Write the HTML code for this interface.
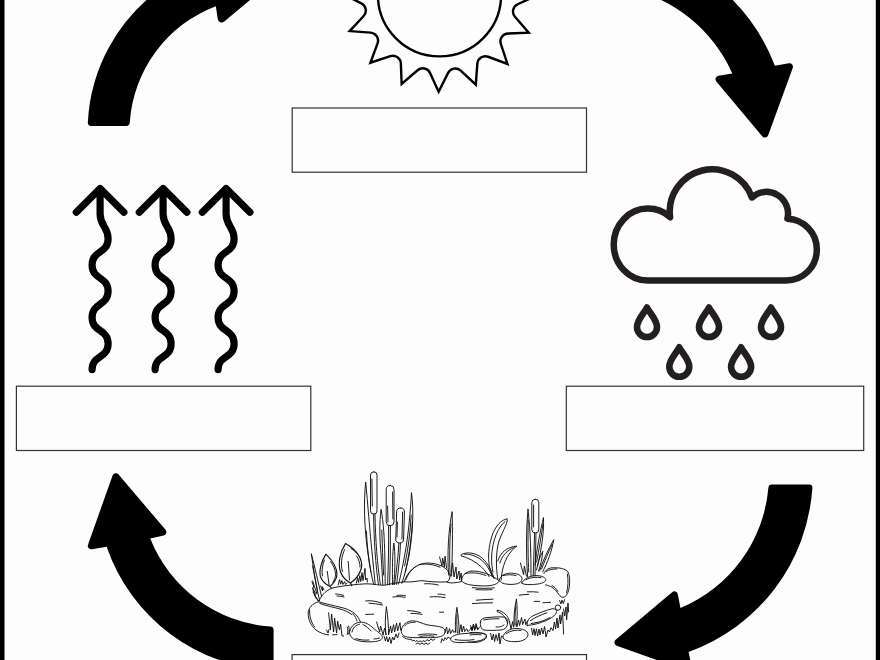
<!DOCTYPE html>
<html><head><meta charset="utf-8"><title>Water cycle</title>
<style>
html,body{margin:0;padding:0;background:#fdfdfd;font-family:"Liberation Sans",sans-serif;overflow:hidden}
svg{display:block}
</style></head>
<body>
<svg width="880" height="660" viewBox="0 0 880 660">
<rect x="0" y="0" width="880" height="660" fill="#fdfdfd"/>
<rect x="0" y="0" width="4.5" height="660" fill="#000"/>
<rect x="875.8" y="0" width="4.2" height="660" fill="#000"/>
<g fill="#000">
<path d="M 273.6,670.38 L 273.6,630.04 Q 273.6,626.64 270.2,626.54 A 139.8 139.8 0 0 1 150.26,538.58 L 150.26,538.58 L 163.69,535.49 A 3.5 3.5 0 0 0 165.57,529.81 L 118.53,474.43 A 3.5 3.5 0 0 0 112.57,475.52 L 88.01,544.63 A 3.5 3.5 0 0 0 91.92,549.25 L 106.66,546.64 A 183.5 183.5 0 0 0 273.6,670.38 Z"/>
<path d="M 719.76,-12 L 625.54,-12 A 148.9 148.9 0 0 1 732.3,73.38 L 732.3,73.38 L 718.43,75.69 A 3.5 3.5 0 0 0 716.32,81.39 L 762.2,136.34 A 3.5 3.5 0 0 0 768.18,135.29 L 792.73,67.88 A 3.5 3.5 0 0 0 788.84,63.24 L 774.87,65.67 A 191.2 191.2 0 0 0 719.76,-12 Z"/>
<path d="M 87.82,122.51 A 175.8 175.8 0 0 1 161.56,-12 L 256,-5 L 256,-5 L 224.27,21.53 A 4 4 0 0 1 217.75,19.05 L 215.83,6.14 A 133.9 133.9 0 0 0 129.79,122.51 Q 129.61,125.9 126.21,125.9 L 91.08,125.9 Q 87.68,125.9 87.82,122.51 Z"/>
<path d="M 809.18,484.5 L 772.01,484.5 Q 768.61,484.5 768.36,487.88 A 143.7 143.7 0 0 1 680.44,608.06 L 680.44,608.06 L 677.81,594.19 A 3.5 3.5 0 0 0 672.12,592.16 L 615.66,639.77 A 3.5 3.5 0 0 0 616.74,645.74 L 687.11,670.8 A 3.5 3.5 0 0 0 691.7,666.78 L 688.57,651.97 A 187.6 187.6 0 0 0 812.38,487.89 Q 812.58,484.5 809.18,484.5 Z"/>
</g>
<g fill="none" stroke="#000" stroke-width="2.4" stroke-linejoin="miter" stroke-miterlimit="10"><circle cx="439.5" cy="-5.2" r="61.6"/><path d="M 438.65,91.7 L 430.06,72.98 A 8 8 0 0 0 417.57,70.26 L 401.64,84 L 400.86,63.42 A 8 8 0 0 0 390.36,56.12 L 370.39,62.72 L 377.55,43.41 A 8 8 0 0 0 370.63,32.65 L 349.66,31.1 L 363.66,16 A 8 8 0 0 0 361.39,3.41 L 342.6,-6.05 L 361.32,-14.64 A 8 8 0 0 0 364.04,-27.13 L 350.3,-43.06 L 370.88,-43.84 A 8 8 0 0 0 378.18,-54.34 L 371.58,-74.31 L 390.89,-67.15 A 8 8 0 0 0 401.65,-74.07 L 403.2,-95.04 L 418.3,-81.04 A 8 8 0 0 0 430.89,-83.31 L 440.35,-102.1 L 448.94,-83.38 A 8 8 0 0 0 461.43,-80.66 L 477.36,-94.4 L 478.14,-73.82 A 8 8 0 0 0 488.64,-66.52 L 508.61,-73.12 L 501.45,-53.81 A 8 8 0 0 0 508.37,-43.05 L 529.34,-41.5 L 515.34,-26.4 A 8 8 0 0 0 517.61,-13.81 L 536.4,-4.35 L 517.68,4.24 A 8 8 0 0 0 514.96,16.73 L 528.7,32.66 L 508.12,33.44 A 8 8 0 0 0 500.82,43.94 L 507.42,63.91 L 488.11,56.75 A 8 8 0 0 0 477.35,63.67 L 475.8,84.64 L 460.7,70.64 A 8 8 0 0 0 448.11,72.91 L 438.65,91.7 Z"/></g>
<g fill="none" stroke="#333" stroke-width="1.2"><rect x="292.2" y="108" width="294.3" height="64.2"/><rect x="16.4" y="386.2" width="294.4" height="64.3"/><rect x="566.3" y="386.2" width="297.4" height="64.3"/><rect x="292.1" y="654.6" width="294.4" height="45.4"/></g>
<g fill="none" stroke="#000" stroke-width="7.2" stroke-linecap="round" stroke-linejoin="round"><path d="M 76.3,212.3 L 100.1,188.5 L 123.9,212.3 M 100.1,188.5 L 100.1,214 C 100.1,226 108.1,226.7 108.1,238.7 C 108.1,253.7 92.1,250.1 92.1,265.1 C 92.1,280.1 108.1,276.1 108.1,291.1 C 108.1,306.1 92.1,302.4 92.1,317.4 C 92.1,332.4 108.1,328.7 108.1,343.7 C 108.1,358.7 92.1,354.6 92.1,369.6 "/><path d="M 139.3,212.3 L 163.1,188.5 L 186.9,212.3 M 163.1,188.5 L 163.1,214 C 163.1,226 171.1,226.7 171.1,238.7 C 171.1,253.7 155.1,250.1 155.1,265.1 C 155.1,280.1 171.1,276.1 171.1,291.1 C 171.1,306.1 155.1,302.4 155.1,317.4 C 155.1,332.4 171.1,328.7 171.1,343.7 C 171.1,358.7 155.1,354.6 155.1,369.6 "/><path d="M 202.3,212.3 L 226.1,188.5 L 249.9,212.3 M 226.1,188.5 L 226.1,214 C 226.1,226 234.1,226.7 234.1,238.7 C 234.1,253.7 218.1,250.1 218.1,265.1 C 218.1,280.1 234.1,276.1 234.1,291.1 C 234.1,306.1 218.1,302.4 218.1,317.4 C 218.1,332.4 234.1,328.7 234.1,343.7 C 234.1,358.7 218.1,354.6 218.1,369.6 "/></g>
<path d="M 647.7,280.5 A 34 36 0 0 1 613.7,244.6 A 34 36 0 0 1 647.7,208.6 A 34 36 0 0 1 670.1,217.2 A 42.3 42.3 0 0 1 751.9,197.5 A 21.6 21.6 0 0 1 787.4,218.7 A 30.6 30.6 0 0 1 816.8,249.8 A 30.6 30.6 0 0 1 786.2,280.5 Z" fill="none" stroke="#231f20" stroke-width="6.5" stroke-linejoin="round"/>
<g fill="none" stroke="#231f20" stroke-width="6.6" stroke-linejoin="round"><path d="M 647,307.5 C 649.5,312.96 657,319.59 657,327 A 10 10 0 1 1 637,327 C 637,319.59 644.5,312.96 647,307.5 Z"/><path d="M 709,307.5 C 711.5,312.96 719,319.59 719,327 A 10 10 0 1 1 699,327 C 699,319.59 706.5,312.96 709,307.5 Z"/><path d="M 771,307.5 C 773.5,312.96 781,319.59 781,327 A 10 10 0 1 1 761,327 C 761,319.59 768.5,312.96 771,307.5 Z"/><path d="M 679.3,347.3 C 681.8,352.76 689.3,359.39 689.3,366.8 A 10 10 0 1 1 669.3,366.8 C 669.3,359.39 676.8,352.76 679.3,347.3 Z"/><path d="M 741.1,347.3 C 743.6,352.76 751.1,359.39 751.1,366.8 A 10 10 0 1 1 731.1,366.8 C 731.1,359.39 738.6,352.76 741.1,347.3 Z"/></g>
<g fill="none" stroke="#111" stroke-width="0.95" stroke-linecap="round" stroke-linejoin="round">
<!-- cattail heads -->
<rect x="370.5" y="471.8" width="6.5" height="42.3" rx="3.25"/>
<rect x="386.2" y="485.5" width="7.8" height="40.2" rx="3.9"/>
<rect x="396.2" y="508" width="7.8" height="35" rx="3.9" transform="rotate(1.8 400 525.5)"/>
<path d="M371.9,479 L372.3,506 M392.6,492 L392.9,519 M387.6,506 L388,522 M402.6,512 L402,539 M397.4,522 L397,537"/>
<!-- cattail stems -->
<path d="M373.6,514.2 C373.9,540 375.6,565 378.4,584.5 M375,514.2 C375.4,540 377.4,565 380.4,584.5 M388.6,525.8 C388.8,545 388.4,565 387.6,584.8 M390.4,525.8 C390.6,545 390.2,565 389.6,584.8 M398.9,543.2 C398.2,556 396.6,570 394.6,584.4 M400.5,543.2 C400,556 398.4,570 396.6,584.4"/>
<!-- long blades -->
<path d="M365.7,482.5 C363.6,500 364,528 368.2,555 C369.6,566 371.6,576 373.6,584.5 M365.7,482.5 C368,505 369.6,530 372.3,555 C373.4,566 374.4,576 375.2,584.5 M366.4,531 C367,545 368.6,560 371,572"/>
<path d="M381.1,509.7 C379.2,522 379.6,540 381.1,555 C381.8,566 382.4,576 382.8,584.8 M381.1,509.7 C383.6,522 384.4,540 384.8,555 C385,566 385.2,576 385.2,584.8 M381.8,530 C382.2,545 382.8,560 383.6,575"/>
<path d="M411.5,493 C410.4,510 408.6,535 404.7,555 C402.8,566 400.6,576 398.6,584 M411.5,493 C414.2,512 412.4,536 409.1,555 C407,566 404.4,576 401.8,583.4 M411.2,515 C410.4,532 408,550 404.6,566 M412.4,522 C411.6,538 409,556 405.4,572"/>
<path d="M393.8,543.4 C392.4,553 392.2,570 392.6,584.6 M393.8,543.4 C395.6,553 395,570 393.8,584.6"/>
<!-- single blade mid -->
<path d="M452.1,512 C448.6,528 447,555 448.6,575 M452.1,512 C452.8,530 452.4,555 451.6,576 M451,524 C449.6,540 449.4,560 450,572"/>
<!-- left leaves -->
<path stroke-width="1.15" d="M325.9,554.1 C321.6,561 318.6,571 320.6,577 C322.4,581.6 326,584.6 330,586.4 C334,583 336.6,579 336.9,574.5 C337,567 332,560 325.9,554.1 Z M330,586.4 L331.4,587.8"/>
<path d="M329.1,585 L327.3,571.4 M324.4,560 C322.4,565 321.4,571 322.4,576 M330.6,561.6 C333.6,565.6 335.4,570 335.6,574.4 C335.4,577.6 334.4,580 333,582"/>
<path stroke-width="1.15" d="M345.5,543.6 C340,552 337.6,563 340.6,572 C342.6,577.6 346.6,581 350.5,583 C355,580 359.6,575 361.4,568 C363,559 357,550 345.5,543.6 Z M350.5,583 L351.8,585.6"/>
<path d="M349.5,580 L348.2,561.4 M344.6,549.6 C341.6,556 340.4,564 342.4,571.4 M356.6,556 C359,559.6 360.2,563.6 360,567 M351,548.4 C353,549.6 355,551.4 356.6,553.2"/>
<path d="M311.4,554.1 C313.6,570 316.6,588 319.6,600.6 M311.4,554.1 C315,568 318.6,584 321.6,596.6 M312.6,566 L317.6,592 M312,581.8 L313.6,586 L313,588.6 L315.4,593 L314.6,595.6 L318.6,601"/>
<path d="M338.2,585 L339.6,579.6 L340.6,584.2 L341.8,580.6 L343,584.4 L344.6,581.6 L345.6,584.6 L347.2,583 M356.4,583.2 L357.6,577.6 L358.6,582.4 L359.8,575.6 L360.8,581.6 L362,572.6 L363,580.6 L365,568.4 L365.6,580 L367,578 L367.4,582"/>
<!-- pond back shore -->
<path d="M319,601 C322,594 327,589.6 334,587.6 C345,585.4 356,584.4 366,583.8 C374,583.8 380,585.6 384.6,585.2 C392,583.6 398,582.6 404.2,581.8"/>
<!-- rock A -->
<path d="M404.2,581.8 C407,572 416,563.4 427.4,563 C438,563 448.6,568 449.8,574.6 C450.2,578 449.4,580.6 447,582 M404.2,581.8 C410,582.6 416,581.2 421.6,580.6 C430,581.6 438,582.6 447.6,581.8 M405.6,580 C408,573.6 412,569 416,566.4 M419,564.6 C426,563.2 434,564.6 440,567.2"/>
<!-- grass between A and B -->
<path d="M439.6,557 L442,566 L442.6,558 L444.4,567 L445,556.2 L446.6,568 M447.6,582.4 C451,583.4 455,583 461.4,581.6 M450.6,576 L452.6,563 L454,577 L456,567 L456.8,579 L459,571 L459.6,580 L461.2,573 L461.6,580.4"/>
<!-- rock B -->
<path d="M461.4,580.5 C462,575 466,571.6 472,571 C482,571 492,575 499.4,581 C497,585.4 488,586.4 480,585.8 C472,585.4 463.4,584.6 461.4,580.5 Z M465,573.6 C472,572 480,573 486,575.6"/>
<!-- plant: left leaf, centre leaf, right leaf -->
<path d="M461.6,556 C460.6,555 461,554.4 462,554.2 C467,552 474,552.6 480,556.4 C486,560.6 491,568 494.1,578.4 M461.6,556 C468,557.6 475,561.4 481,566.6 C485,570.4 487.6,574 489,576.6 M464.6,554.2 C470,553.8 476,556 481,559.6 C486,563.6 489.6,569 492,575.6"/>
<path d="M507,518.9 C497,520.6 489.6,535 488.6,555 C488.4,565 490.4,573 493.6,578 M507,518.9 C509,521 503,530 499,541 C496,551 495.6,566 497.8,579 M505,521.6 C498,527 492.6,540 491.6,556 C491.4,563 492,568 493,572"/>
<path d="M516.6,546.2 C507,546.6 500,553 497.8,561 M516.6,546.2 C509,552 503.6,561 501.6,575 C501.4,577 501.2,578.6 501.2,580 M514,547.6 C507,550 502,556 499.8,563"/>
<!-- rock C -->
<path d="M499.4,579.6 C500.4,575 506,573 511.6,573.2 C517.6,573.4 522.6,575.6 522,579.6 C521,583.6 515,584.6 510,584.4 C504.6,584.2 499.6,583 499.4,579.6 Z M503,575.6 C507,574.4 512,574.4 516,575.6"/>
<!-- rock D -->
<path d="M521.8,583 C524,578.6 530,575.6 536,575.6 C541.6,575.6 546.6,577.6 545.6,580.6 C544,583.6 536,584.6 530,584.6 C526,584.6 522.6,584.4 521.8,583 Z M526,579.6 C530,577.4 536,576.8 541,577.6"/>
<!-- right cattail cluster -->
<rect x="531.8" y="499.2" width="7" height="33.8" rx="3.5"/>
<path d="M533.6,505 L533.6,527 M534.6,533 L533.2,576 M536,533 L535,576"/>
<path d="M528,509.3 C526,530 526,555 527.6,577 M528,509.3 C530.6,530 531,555 531,576 M528.2,520 C527.8,540 528,560 528.8,572"/>
<path d="M543.4,517.9 C540,532 536.6,550 535,565 M543.4,517.9 C544.4,530 541.6,548 537.6,566 M543,524 C541.4,535 539,550 536.6,562"/>
<path d="M553.6,540 C548,550 543,560 539.6,571 M553.6,540 C552,551 547.6,562 542.6,572 M552,544.6 C548.6,552 544.6,561 541.6,569"/>
<path d="M542.7,551.6 C539.6,557 537.6,563 536.6,570 M542.7,551.6 C542.4,558 540.6,565 538.6,571"/>
<path d="M520.4,563 L523.6,574.6 L524.4,566 L526.4,576"/>
<!-- rock E -->
<path d="M543.9,573.5 C545,570 549,567.4 554,567.8 C559,567.6 565,568.4 567.8,571.6 C569.8,575 570,581 569.4,586 C568.8,591 567.4,595 564.6,597 C562.4,598 560.4,596.6 558.6,594.2 C556.6,591.4 554.6,588.8 552,587.2 C549.6,585.8 547,585.2 545.6,584.8 M546,571.6 C549,569.4 553,568.8 557,569 M567.4,574 C568.4,580 568.2,587 566.6,592.6 M552,585.4 C554.4,586.8 556.4,589 558,591.4"/>
<!-- pebble + right grass -->
<circle cx="558" cy="607.6" r="2.7"/>
<path d="M559.6,600.6 L561,604 L562,600 L563.4,603.6 L564.6,599.6 M563.6,609 L564.6,616 L566,607 L566.6,620 L568,603 L568.6,612"/>
<!-- rock F -->
<path d="M527.2,625.4 C526.6,621 529,617.8 533,615.8 C539,613 546,610.2 552,608.8 C555,608.4 557,610 556.4,612.4 C555.4,615.6 551,618.4 546,620.6 C540,623.2 533,625.2 527.2,625.4 Z M530.4,620.6 C535,617.4 541,614.8 547,612.8 M536,622.8 C541,621.6 546,619.8 550,617.6 M531,623.6 C533,623.4 535,623 537,622.4"/>
<path d="M531.6,628.4 L532.6,635 L534,628.6 L535,635.6 L536.4,628.8 L537.6,636 L539,629 L540,635 L541.6,628 L543,634 L544.6,626.6 L546,637 L548,630 L549.6,632 L551,627.6 L553,630.6 L554.4,622 L555.6,629 L557,618 L558,628 L560,615 L560.6,624 L562.6,612 L563.6,634"/>
<!-- front: curved blade + tall blade + rock G -->
<path d="M497.4,610.2 C503,611 508,615 509.6,622 M497.6,611.8 C502,613 506,617 507.6,623.4 M497.4,610.2 C496.6,610.8 496.8,611.6 497.6,611.8"/>
<path d="M516.4,599.3 C514.4,608 513.6,618 514,626 M516.4,599.3 C517.6,608 517.4,618 516.4,626.4 M515.8,606 C515,613 514.8,620 515.2,625"/>
<path d="M509.6,622 L511,629 L512.6,621.6 L513.6,627 M517,626.6 L518.6,620 L519.6,625.6 L521.6,617.6 L522.6,624.6 L525,619 L525.6,624.6 L527.6,621"/>
<path d="M480.4,622 C480.6,619 483,617.8 487,617.6 C492,617.2 498,616.6 503,617 C506.6,617.4 508,619.6 507.6,623 C507.4,627 505,629.6 501,630 C495,630.4 489,630.6 484,630 C481,629.4 480.2,626 480.4,622 Z M483.6,620 C488,619 494,618.6 499,618.8 M496,627 C499,627.4 502,626.6 504,625"/>
<!-- rock H -->
<path d="M502.8,636.8 C504,632 510,628.6 516,628.4 C522,628.4 528,630.6 528,634.6 C527.6,639 522,641.6 516,641.6 C510,641.8 503,641 502.8,636.8 Z M506,633.6 C510,630.8 516,629.6 521,630.4"/>
<!-- rock I -->
<path d="M470,632.6 C476,632 484,632.6 486.4,635.6 C487.6,639 482,641.6 476,642.4 C472,642.6 470,642.4 468.6,642"/>
<path d="M490.6,633.4 L492,640 L493.4,634 L494.6,641.6 L496,634.6 L497.6,640.6 L499,633 L500,644 L501.4,636"/>
<path d="M470.6,625.6 L472,630 L473.4,624 L474.6,630.4 L476,623.6 L477.6,629.6"/>
<!-- rock K (flat) -->
<path d="M450.6,638.4 C452,635 459,633.8 467,633.4 C474,633 483,632.4 485.6,634 C487.6,636 485,639 480,640.6 C474,642 466,642.6 459,642.6 C454,642.4 450,641.6 450.6,638.4 Z M455,639.6 C460,640.6 468,640.6 474,639.6 M470,635 C474,634.4 478,634.4 481,634.8"/>
<!-- tall blade mid front + grass -->
<path d="M456.9,607.7 C455.4,616 455,625 455.6,632.4 M456.9,607.7 C458.4,616 459,625 459.2,633 M457,614 C456.6,621 456.8,628 457.4,633"/>
<path d="M445,632.4 L446.6,627 L447.6,634 L449.6,628.6 L450.6,633.6 L452.6,629.6 L453.6,632.4 L455.6,631 M459.2,633 L461,624.6 L462,632 L463.6,626 L464.6,631.6 L466.6,628.6 L468,631.6 L470,629.6 L471.4,627 L472,631 L473.6,624.6 L474.6,630 L476.4,625.6 L477.6,630 L479.6,627"/>
<!-- rock J -->
<path d="M401.4,629.6 C402,625 407,621 412.4,620.8 C418,620.8 422,623.6 427,624.8 C432,625.8 438,626 442,627.4 C445.6,629 446,632.6 443.6,635 C441,637.6 432,637.8 424,637.6 C416,637.6 408,638 404,636 C401.6,634.6 401,632 401.4,629.6 Z M404.6,626 C407,623 411,622 415,622.4 M418,635 C424,633.6 431,633.6 437,634.8 M420,636.4 C425,635.6 430,635.6 434,636.2"/>
<path d="M402.6,636.6 C405,638.6 408,639.6 411,639.4 M411,639.4 L412.6,641 L414,640 L415.6,641.6 L417,640.4 L418.6,642 L420,640.6 L421.6,642 L423,640.6 L425,641.6 L427,639.6 L429,641 L431,639 L433,640.4 L435,639 M416,644 L418,643 L420,644.4 L422,643 L424,644.4 L426,643 L428,644.4 L430,643 M441,642.6 L442,638.6 L443.6,641 L445,637.6 L446.6,639.6 L448,637 L450,638.4"/>
<!-- left-front grass near rock J -->
<path d="M386.4,607 C385,617 385,627 386,634.6 M386.4,607 C388,617 388.6,627 388.6,634.6 M376.6,622 L379.6,632 L380.6,626 L383,635 L384.6,628 L386,634.6 M388.6,634.6 L390.6,626 L391.6,633 L393.6,624.6 L394.6,632 L396.6,623 L397.6,631 L400,622.6 L400.6,630 M384,636 L385.4,641 L386.6,636.6 L388,642 L389.6,637 L391,643.6 L392.6,637 L394,640 L396,634 L397.6,638 L399,633"/>
<!-- small rock (left front) -->
<path d="M349.8,630.6 C351.6,625 356,622 361.6,622.2 C367,622.4 371,626 375,629.6 C378.6,632.6 382.6,634.6 382.4,637.6 C382,640.6 377,641.6 372,641.8 C365,642 358,641.6 353.6,639 C350,636.6 349,633.6 349.8,630.6 Z M352,632 C352.6,628 355.6,625 359.6,624.2 M356,638.6 C360,640 365,640.4 369,640 M374,639 C376,639 378,638.6 379.6,638 M363,624.6 C366,626 369,628.6 371,631"/>
<path d="M348.6,626 C349.4,628 349.4,631 348.6,634 M347.2,627 C348,629 348,632 347.2,634.6"/>
<!-- big left rock -->
<path d="M318.4,601.8 C312,603.6 308.4,608 308.2,613 C308.2,620 311,626 316,630 C320,633 324.6,634.6 328.6,634.8 M318.4,601.8 C326,604 334,605.6 341,607.4 C348,609 354,612 357,616 C359,618.6 360,620.6 360.4,622 M320,603.6 C327,606 334,607.4 340,609 C345,610.4 349,612.4 352,614.6 M309.6,610 C309.2,616 311,622 314.6,627 M353,613.6 C355,616 356.4,619 357,621"/>
<path d="M328.6,612.8 L330.4,630 L331.6,614 L333.6,632 L334.6,618 L336.6,633 L337.6,621 L339.4,630 L340.6,624 L342,636 L343.6,636 M326.6,630 L328,633 L329,629.6 M332.6,634.8 L337,634.6"/>
<!-- left shore grass -->
<path d="M312.6,581 L317,594 M312.4,588 L316,598 M313,592 L318,601 M320.6,586 L322.6,591 L322.2,586.6 L324,590"/>
<!-- water marks -->
<path d="M335.6,594 C338,594 341,594.6 343.6,595.4 M337,596 C339.6,596 342,596.4 344,597 M365.6,601 C370,600.2 376,601 381.8,603.2 M369,603.2 C373,603.4 378,604 382.6,605 M392.8,597 C397,596.4 401,596.4 405,597.4 M397,595.4 C400,595 403,595.2 405.6,595.8 M365.6,614.4 L373.6,614.2 M407.6,610.6 C412,610.6 416,611.4 420.4,612.6 M411,613.4 C415,613.4 419,613.8 422,614.4 M430,597 C435,596.4 440,596.6 445,597.6 M438,594.2 C440.6,594 443,594.4 445.2,595 M439.6,612.2 L443.6,612.2 M424.6,583.8 C429,583.4 434,584 438.2,585 M472.4,587.6 C480,588.6 488,588.6 494.2,587.8 M476,589.6 C482,590 488,590 492,589.6 M476.4,600.2 C482,599.6 488,599.4 493,599.2 M472.4,603.6 C479,603 486,602.8 492.6,602.8 M519.2,595.2 C522,594.6 526,594.4 528.6,594.4 M527.4,591.8 C531,591.6 535,591.8 538.2,592.2 M534.2,601.4 L539.6,601.4 M543,602.8 C546,602.4 548,602.4 550.6,602.4"/>
</g>

</svg>
</body></html>
